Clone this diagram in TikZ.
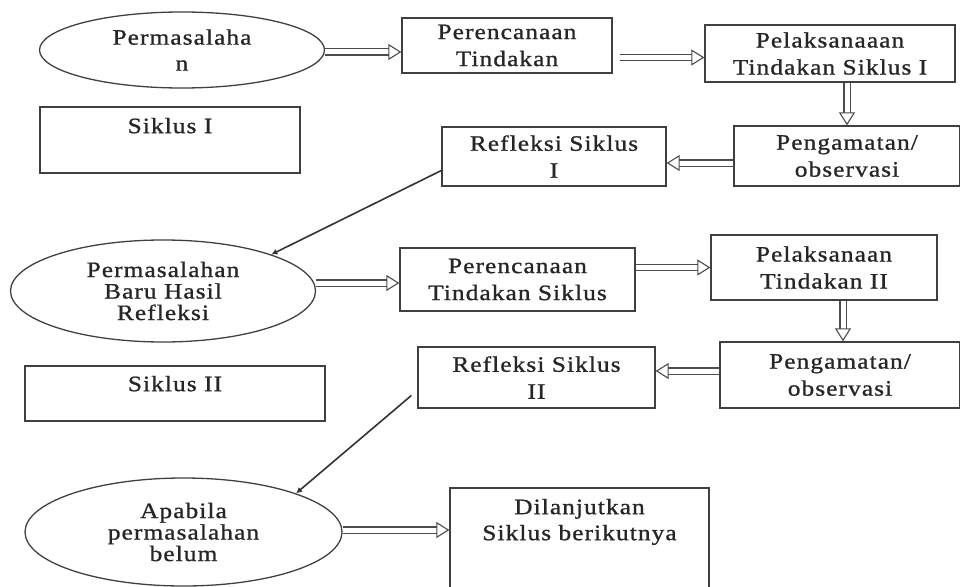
\documentclass[tikz,border=0pt]{standalone}
\usepackage{fontspec}
\setmainfont{Liberation Serif}[FakeStretch=1.15, LetterSpace=5, FakeBold=1]
\usetikzlibrary{shapes.geometric,arrows.meta}
\begin{document}
\begin{tikzpicture}[x=1pt,y=-1pt,
 box/.style={draw=black!75, line width=1.3pt, inner sep=0pt, align=center, text=black!85, font=\fontsize{22}{27}\selectfont},
 ell/.style={draw=black!75, ellipse, line width=1.3pt, inner sep=0pt, align=center, text=black!85, font=\fontsize{22}{21.5}\selectfont},
 toplabel/.style={font=\fontsize{22}{26}\selectfont, text=black!85, align=center, anchor=north},
 dbl/.style={draw=black!70, double=white, double distance=5pt, line width=1.1pt, -{Triangle[open,length=13pt,width=16pt]}},
 thinarrow/.style={draw=black!80, line width=1.6pt, -{Latex[length=6pt,width=6pt]}}]
\useasboundingbox (0,0) rectangle (960,586);
\node[ell, minimum width=285pt, minimum height=76pt, font=\fontsize{22}{26}\selectfont] (e1) at (182,50) {Permasalaha\\n};
\node[box, minimum width=210pt, minimum height=55pt] (b1) at (507,45.5) {Perencanaan\\Tindakan};
\node[box, minimum width=250pt, minimum height=57pt] (b2) at (830,53.5) {Pelaksanaaan\\Tindakan Siklus I};
\node[box, minimum width=260pt, minimum height=66pt, label={[toplabel, yshift=-8pt]north:Siklus I}] (s1) at (170,140) {};
\node[box, minimum width=224pt, minimum height=59pt] (r1) at (554,156.5) {Refleksi Siklus\\I};
\node[box, minimum width=226pt, minimum height=60pt] (o1) at (847,156) {Pengamatan/\\observasi};
\node[ell, minimum width=305pt, minimum height=102pt] (e2) at (163,291) {Permasalahan\\Baru Hasil\\Refleksi};
\node[box, minimum width=235pt, minimum height=63pt] (p2) at (517.5,279.5) {Perencanaan\\Tindakan Siklus};
\node[box, minimum width=226pt, minimum height=65pt] (l2) at (824,267.5) {Pelaksanaan\\Tindakan II};
\node[box, minimum width=240pt, minimum height=66pt] (o2) at (840,375) {Pengamatan/\\observasi};
\node[box, minimum width=237pt, minimum height=61pt] (r2) at (536.5,377.5) {Refleksi Siklus\\II};
\node[box, minimum width=300pt, minimum height=55pt, label={[toplabel, yshift=-7pt]north:Siklus II}] (s2) at (175,393.5) {};
\node[ell, minimum width=317pt, minimum height=108pt] (e3) at (183.5,532) {Apabila\\permasalahan\\belum};
\node[box, minimum width=259pt, minimum height=112pt, label={[toplabel, yshift=-8pt]north:Dilanjutkan\\Siklus berikutnya}] (d) at (579.5,544) {};
\draw[dbl] ([yshift=-2pt]e1.east) -- ([yshift=-2pt]e1.east -| b1.west);
\draw[dbl] ([xshift=7pt,yshift=-4pt]b1.east |- b2.west) -- ([yshift=-4pt]b2.west);
\draw[dbl] (o1.north |- b2.south) -- (o1.north);
\draw[dbl] ([yshift=-7pt]o1.west) -- ([yshift=-7pt]o1.west -| r1.east);
\draw[thinarrow] ([yshift=-14pt]r1.west) -- (e2.north east);
\draw[dbl] ([yshift=8pt]e2.east) -- ([yshift=8pt]e2.east -| p2.west);
\draw[dbl] (p2.east |- l2.west) -- (l2.west);
\draw[dbl] ([xshift=3pt]o2.north |- l2.south) -- ([xshift=3pt]o2.north);
\draw[dbl] ([yshift=4pt]o2.west) -- ([yshift=4pt]o2.west -| r2.east);
\draw[thinarrow] ([xshift=-6pt,yshift=-18pt]r2.west) -- (e3.north east);
\draw[dbl] ([yshift=2pt]e3.east) -- ([yshift=2pt]e3.east -| d.west);
\end{tikzpicture}
\end{document}
